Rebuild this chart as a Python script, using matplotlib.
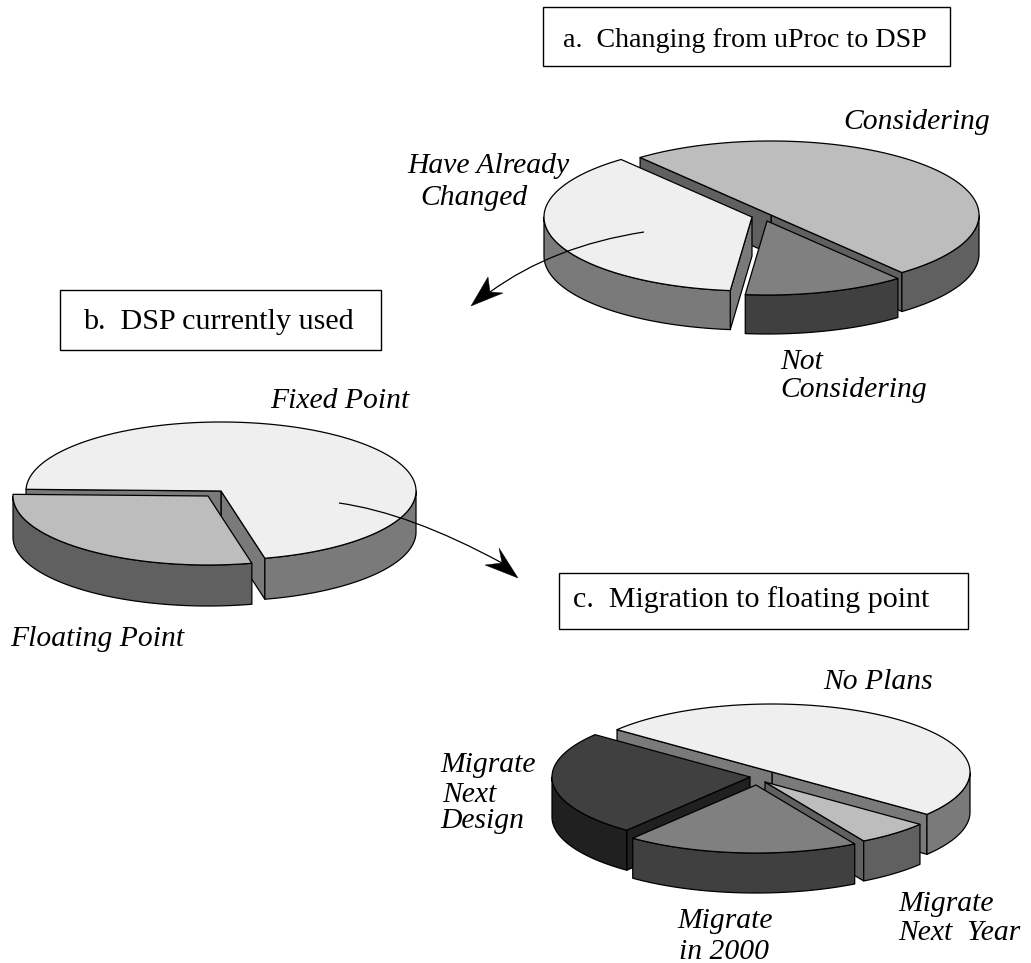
import numpy as np
import matplotlib
matplotlib.use('Agg')
import matplotlib.pyplot as plt
from matplotlib.patches import Polygon, Rectangle, PathPatch
from matplotlib.path import Path

plt.rcParams['font.family'] = ['Liberation Serif', 'DejaVu Serif']

# shares in percent
a_names = ['Considering', 'Have Already\nChanged', 'Not\nConsidering']
a_values = [50, 37.5, 12.5]
b_names = ['Fixed Point', 'Floating Point']
b_values = [71, 29]
c_names = ['No Plans', 'Migrate\nNext\nDesign', 'Migrate\nin 2000', 'Migrate\nNext  Year']
c_values = [50, 25, 19, 6]

titles = ['a.  Changing from uProc to DSP', 'b.  DSP currently used', 'c.  Migration to floating point']

# drawing styles: (top, side)
a_colors = [('#bdbdbd', '#606060'), ('#efefef', '#7a7a7a'), ('#808080', '#404040')]
b_colors = [('#efefef', '#7a7a7a'), ('#bdbdbd', '#606060')]
c_colors = [('#efefef', '#7a7a7a'), ('#404040', '#202020'), ('#808080', '#404040'), ('#bdbdbd', '#606060')]

# slice centres in pixels
a_centers = [(771, 215), (752, 217), (767, 221)]
b_centers = [(221, 491), (208, 496)]
c_centers = [(772, 772), (750, 777), (756, 785), (765, 782)]

fig = plt.figure(figsize=(10.31, 9.63), dpi=100)
ax = fig.add_axes([0, 0, 1, 1])
ax.set_xlim(0, 1031)
ax.set_ylim(963, 0)
ax.axis('off')

LW = 0.9


def rim(c, rx, ry, t):
    return np.column_stack([c[0] + rx * np.cos(t), c[1] - ry * np.sin(t)])


def draw_pie(values, colors, centers, start, rx, ry, h, order):
    edges = np.radians(start + np.concatenate([[0], np.cumsum(values)]) * 3.6)
    down = np.array([0, h])
    for i in order:
        t0, t1 = edges[i], edges[i + 1]
        c = centers[i]
        top_col, side_col = colors[i]
        # cut faces, only the ones turned to the viewer
        for t, vis in ((t0, np.cos(t0) > 0), (t1, np.cos(t1) < 0)):
            if vis:
                p = rim(c, rx, ry, np.array([t]))[0]
                face = [c, p, p + down, np.array(c) + down]
                ax.add_patch(Polygon(face, fc=side_col, ec='k', lw=LW, joinstyle='round'))
        # outer wall
        ts = np.linspace(t0, t1, 300)
        ts = ts[np.sin(ts) <= 0]
        if len(ts) > 1:
            edge = rim(c, rx, ry, ts)
            wall = np.vstack([edge, (edge + down)[::-1]])
            ax.add_patch(Polygon(wall, fc=side_col, ec='k', lw=LW, joinstyle='round'))
        # top
        ts = np.linspace(t0, t1, 300)
        top = np.vstack([[c], rim(c, rx, ry, ts)])
        ax.add_patch(Polygon(top, fc=top_col, ec='k', lw=LW, joinstyle='round'))


draw_pie(a_values, a_colors, a_centers, -51, 208, 74, 39, [0, 1, 2])
draw_pie(b_values, b_colors, b_centers, 283, 195, 69, 41, [0, 1])
draw_pie(c_values, c_colors, c_centers, -38.5, 198, 68, 40, [0, 3, 1, 2])


def arrow(p0, p1, p2, head):
    path = Path([p0, p1, p2], [Path.MOVETO, Path.CURVE3, Path.CURVE3])
    ax.add_patch(PathPatch(path, fc='none', ec='k', lw=0.9))
    ax.add_patch(Polygon(head, fc='k', ec='k', lw=0.3))


arrow((644, 232), (553, 246), (490, 292), [(471, 306), (488, 277), (490, 292), (503, 293)])
arrow((339, 503), (410, 513), (502, 563), [(518, 578), (499, 548), (502, 563), (485, 565)])

boxes = [(543, 7, 407, 59), (60, 290, 321, 60), (559, 573, 409, 56)]
title_pos = [(563, 47), (83, 329), (573, 607)]
title_size = [20.2, 21.7, 21.6]
for (x, y, w, hh), s, pos, fs in zip(boxes, titles, title_pos, title_size):
    ax.add_patch(Rectangle((x, y), w, hh, fc='white', ec='k', lw=1.0))
    ax.text(pos[0], pos[1], s, fontsize=fs, color='k', ha='left', va='baseline')

# one (x, baseline) per text line
a_pos = [[(843, 129)], [(407, 173), (420, 205)], [(780, 369), (780, 397)]]
b_pos = [[(270, 408)], [(10, 646)]]
c_pos = [[(823, 689)], [(440, 772), (442, 802), (440, 828)], [(677, 928), (679, 959)], [(898, 911), (898, 940)]]
for names, pos in ((a_names, a_pos), (b_names, b_pos), (c_names, c_pos)):
    for s, lines in zip(names, pos):
        for part, p in zip(s.split('\n'), lines):
            ax.text(p[0], p[1], part, fontsize=21.3, style='italic', color='k', ha='left', va='baseline')

fig.savefig('out.png', dpi=100, facecolor='white')
